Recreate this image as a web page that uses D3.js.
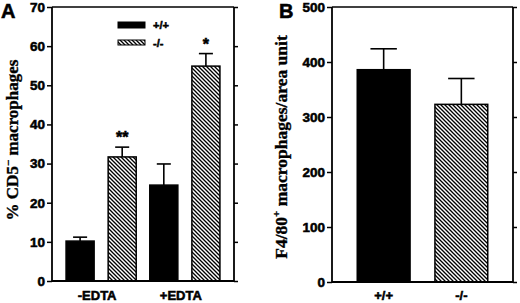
<!DOCTYPE html>
<html><head><meta charset="utf-8">
<script src="https://cdn.jsdelivr.net/npm/d3@7"></script>
<style>
html,body{margin:0;padding:0;background:#fff;}
svg{display:block;}
.tick text{font-family:"Liberation Sans",Arial,sans-serif;font-weight:bold;font-size:13.5px;fill:#000;stroke:#000;stroke-width:0.55px;}
.heavy{stroke:#000;stroke-width:0.55px;}
.heavyS{stroke:#000;stroke-width:0.35px;}
</style></head>
<body>
<svg id="chart" width="520" height="303"></svg>
<script>
// ---- Data ----
const groupsA = ["-EDTA", "+EDTA"];
const seriesA = ["+/+", "-/-"];
const valuesWT_A = [10.2, 24.5];
const errTopWT_A = [11.2, 29.9];
const valuesKO_A = [31.7, 54.9];
const errTopKO_A = [34.2, 58.1];
const starsKO_A = ["**", "*"];
const ticksA = [0, 10, 20, 30, 40, 50, 60, 70];

const categoriesB = ["+/+", "-/-"];
const valuesB = [386, 323];
const errTopB = [424, 370];
const ticksB = [0, 100, 200, 300, 400, 500];

const svg = d3.select("#chart");
const defs = svg.append("defs");
const pat = defs.append("pattern").attr("id", "hatch")
  .attr("patternUnits", "userSpaceOnUse").attr("width", 4).attr("height", 4);
pat.append("rect").attr("width", 4).attr("height", 4).attr("fill", "#fff");
pat.append("path").attr("d", "M-1,-1 L5,5 M-1,3 L1,5 M3,-1 L5,1")
  .attr("stroke", "#000").attr("stroke-width", 1.35);

const fills = {"+/+": "#000", "-/-": "url(#hatch)"};
const sansBold = "'Liberation Sans', Arial, sans-serif";
const serif = "'Liberation Serif', 'Times New Roman', serif";

function frame(g, x0, x1, y, ticks) {
  const yl = g.append("g").attr("transform", `translate(${x0},0)`)
    .call(d3.axisLeft(y).tickValues(ticks).tickSize(5).tickPadding(2));
  const yr = g.append("g").attr("transform", `translate(${x1},0)`)
    .call(d3.axisRight(y).tickValues(ticks).tickSize(4).tickFormat(""));
  [yl, yr].forEach(a => {
    a.select(".domain").attr("stroke-width", 1.8).attr("d", `M0,${y.range()[0]}V${y.range()[1]}`);
    a.selectAll(".tick line").attr("stroke-width", 1.5);
  });
  g.append("line").attr("x1", x0).attr("x2", x1)
    .attr("y1", y.range()[1]).attr("y2", y.range()[1]).attr("stroke", "#000").attr("stroke-width", 1.5);
  g.append("line").attr("x1", x0).attr("x2", x1)
    .attr("y1", y.range()[0]).attr("y2", y.range()[0]).attr("stroke", "#000").attr("stroke-width", 1.8);
}

// ---- Panel A ----
const gA = svg.append("g");
const yA = d3.scaleLinear().domain([0, 70]).range([281, 7]);
const x0A = d3.scaleBand().domain(groupsA).range([52, 234]).paddingInner(0.162).paddingOuter(0.168);
const x1A = d3.scaleBand().domain(seriesA).range([0, x0A.bandwidth()]).paddingInner(1/3).paddingOuter(0);

const dataA = [];
groupsA.forEach((g, i) => {
  dataA.push({group: g, s: "+/+", v: valuesWT_A[i], e: errTopWT_A[i], star: ""});
  dataA.push({group: g, s: "-/-", v: valuesKO_A[i], e: errTopKO_A[i], star: starsKO_A[i]});
});

function drawBars(g, data, xf, wf, y) {
  const bg = g.append("g");
  data.forEach(d => {
    const x = xf(d), w = wf, cx = x + w / 2;
    bg.append("line").attr("x1", cx).attr("x2", cx).attr("y1", y(d.v)).attr("y2", y(d.e))
      .attr("stroke", "#000").attr("stroke-width", 1.6);
    bg.append("line").attr("x1", cx - w / 4).attr("x2", cx + w / 4).attr("y1", y(d.e)).attr("y2", y(d.e))
      .attr("stroke", "#000").attr("stroke-width", 1.6);
    bg.append("rect").attr("x", x).attr("y", y(d.v)).attr("width", w).attr("height", y(0) - y(d.v))
      .attr("fill", fills[d.s]).attr("stroke", "#000").attr("stroke-width", 1.5);
    if (d.star) {
      bg.append("text").attr("class", "heavy").attr("x", cx).attr("y", y(d.e) - 4).attr("text-anchor", "middle")
        .attr("font-family", sansBold).attr("font-weight", "bold").attr("font-size", 16).text(d.star);
    }
  });
}
drawBars(gA, dataA, d => x0A(d.group) + x1A(d.s), x1A.bandwidth(), yA);
frame(gA, 52, 234, yA, ticksA);

groupsA.forEach(g => {
  gA.append("text").attr("class", "heavy").attr("x", x0A(g) + x0A.bandwidth() / 2 - 4).attr("y", 300)
    .attr("text-anchor", "middle").attr("font-family", sansBold).attr("font-weight", "bold")
    .attr("font-size", 13).text(g);
});

// legend
const leg = gA.append("g");
seriesA.forEach((s, i) => {
  const ly = 22 + i * 18;
  leg.append("rect").attr("x", 118).attr("y", ly).attr("width", 27).attr("height", i === 0 ? 6 : 5)
    .attr("fill", fills[s]).attr("stroke", "#000").attr("stroke-width", 1);
  leg.append("text").attr("class", "heavy").attr("x", 153).attr("y", ly + 7).attr("font-family", sansBold)
    .attr("font-weight", "bold").attr("font-size", 11).text(s);
});

gA.append("text").attr("class", "heavy").attr("x", 1).attr("y", 18).attr("font-family", sansBold).attr("font-weight", "bold")
  .attr("font-size", 20).text("A");
const tA = gA.append("text").attr("class", "heavyS").attr("transform", "translate(18,140) rotate(-90)").attr("text-anchor", "middle")
  .attr("font-family", serif).attr("font-weight", "bold").attr("font-size", 17);
tA.append("tspan").text("% CD5");
tA.append("tspan").attr("dy", -6).attr("font-size", 11).text("−");
tA.append("tspan").attr("dy", 6).text(" macrophages");

// ---- Panel B ----
const gB = svg.append("g");
const yB = d3.scaleLinear().domain([0, 500]).range([282, 7]);
const xB = d3.scaleBand().domain(categoriesB).range([332, 513]).paddingInner(0.32).paddingOuter(0.325);
const dataB = categoriesB.map((c, i) => ({s: c, v: valuesB[i], e: errTopB[i], star: ""}));
drawBars(gB, dataB, d => xB(d.s), xB.bandwidth(), yB);
frame(gB, 332, 513, yB, ticksB);
categoriesB.forEach(c => {
  gB.append("text").attr("class", "heavy").attr("x", xB(c) + xB.bandwidth() / 2).attr("y", 300)
    .attr("text-anchor", "middle").attr("font-family", sansBold).attr("font-weight", "bold")
    .attr("font-size", 13).text(c);
});
gB.append("text").attr("class", "heavy").attr("x", 279).attr("y", 18).attr("font-family", sansBold).attr("font-weight", "bold")
  .attr("font-size", 20).text("B");
const tB = gB.append("text").attr("class", "heavyS").attr("transform", "translate(287,147) rotate(-90)").attr("text-anchor", "middle")
  .attr("font-family", serif).attr("font-weight", "bold").attr("font-size", 17.5);
tB.append("tspan").text("F4/80");
tB.append("tspan").attr("dy", -7).attr("font-size", 11).text("+");
tB.append("tspan").attr("dy", 7).text(" macrophages/area unit");
</script>
</body></html>
